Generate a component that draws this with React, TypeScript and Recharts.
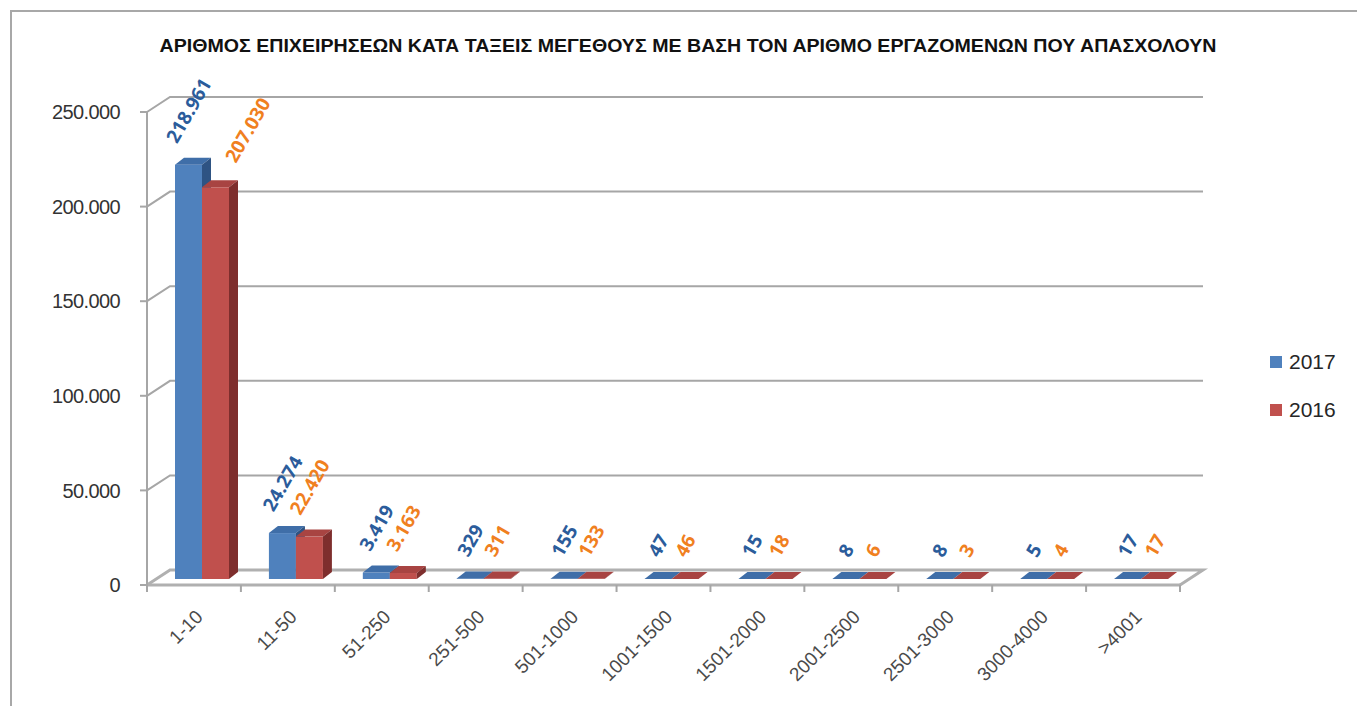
import React from 'react';
import { BarChart, Bar, XAxis, YAxis, CartesianGrid, Legend, LabelList } from 'recharts';

const CATEGORIES = ['1-10', '11-50', '51-250', '251-500', '501-1000', '1001-1500', '1501-2000', '2001-2500', '2501-3000', '3000-4000', '>4001'];
const VALUES_2017 = [218961, 24274, 3419, 329, 155, 47, 15, 8, 8, 5, 17];
const VALUES_2016 = [207030, 22420, 3163, 311, 133, 46, 18, 6, 3, 4, 17];
const Y_TICKS = [0, 50000, 100000, 150000, 200000, 250000];
const TITLE = 'ΑΡΙΘΜΟΣ ΕΠΙΧΕΙΡΗΣΕΩΝ ΚΑΤΑ ΤΑΞΕΙΣ ΜΕΓΕΘΟΥΣ ΜΕ ΒΑΣΗ ΤΟΝ ΑΡΙΘΜΟ ΕΡΓΑΖΟΜΕΝΩΝ ΠΟΥ ΑΠΑΣΧΟΛΟΥΝ';

const data = CATEGORIES.map((name, i) => ({ name, y2017: VALUES_2017[i], y2016: VALUES_2016[i] }));

// 3d look: bar depth, shift of bars to mid depth, back wall offset
const DEPTH_X = 9;
const DEPTH_Y = 7;
const SHIFT_X = 8;
const SHIFT_Y = -6;
const WALL_X = 23;
const WALL_Y = 15;

const BLUE = { front: '#4F81BD', top: '#3F6EA8', side: '#2E5383', label: '#2B5C9B' };
const RED = { front: '#C0504D', top: '#A84442', side: '#7E2E2D', label: '#F0801F' };

const fmt = (v: number) => String(v).replace(/\B(?=(\d{3})+(?!\d))/g, '.');

const makeBarShape = (c: typeof BLUE) => (p: any) => {
  const { x, y, width, height } = p;
  const h = Math.max(height || 0, 0);
  const x0 = x + SHIFT_X;
  const y0 = y + SHIFT_Y;
  const w = width;
  return (
    <g>
      <rect x={x0} y={y0} width={w} height={h} fill={c.front} />
      <polygon
        points={`${x0},${y0} ${x0 + w},${y0} ${x0 + w + DEPTH_X},${y0 - DEPTH_Y} ${x0 + DEPTH_X},${y0 - DEPTH_Y}`}
        fill={c.top}
      />
      <polygon
        points={`${x0 + w},${y0} ${x0 + w + DEPTH_X},${y0 - DEPTH_Y} ${x0 + w + DEPTH_X},${y0 + h - DEPTH_Y} ${x0 + w},${y0 + h}`}
        fill={c.side}
      />
    </g>
  );
};

const makeLabel = (color: string, second: boolean) => (p: any) => {
  const { x, y, width, value, index } = p;
  const text = fmt(Number(value));
  const dots = (text.match(/\./g) || []).length;
  const len = (text.length - dots) * 10.9 + dots * 5;
  let lx = x + width / 2 + SHIFT_X;
  let ly = y + SHIFT_Y - DEPTH_Y - 17 - len * 0.43;
  // Excel pushed the first orange label aside so it does not hit the blue one
  if (second && index === 0) {
    lx += 32;
    ly -= 3;
  }
  return (
    <text
      x={0}
      y={0}
      transform={`translate(${lx},${ly}) rotate(-60)`}
      textAnchor="middle"
      dominantBaseline="central"
      fill={color}
      fontFamily="'Open Sans', sans-serif"
      fontWeight={700}
      fontSize={19}
    >
      {text}
    </text>
  );
};

const renderGridLine = (p: any) => {
  const { x1, x2, y1, y, height, index } = p;
  const isFloor = Math.abs(y1 - (y + height)) < 0.5;
  const d = isFloor
    ? `M${x1},${y1} L${x1 + WALL_X},${y1 - WALL_Y} L${x2 + WALL_X},${y1 - WALL_Y} L${x2},${y1}`
    : `M${x1},${y1} L${x1 + WALL_X},${y1 - WALL_Y} L${x2 + WALL_X},${y1 - WALL_Y}`;
  return <path key={`g-${index}`} d={d} fill="none" stroke={isFloor ? '#b0b0b0' : '#a6a6a6'} strokeWidth={isFloor ? 3 : 2} />;
};

const XTick = (p: any) => {
  const { x, y, payload, index, visibleTicksCount, width } = p;
  const band = width / visibleTicksCount;
  const last = index === visibleTicksCount - 1;
  return (
    <g>
      <line x1={x - band / 2} y1={y} x2={x - band / 2} y2={y + 7} stroke="#a6a6a6" strokeWidth={2} />
      {last && <line x1={x + band / 2} y1={y} x2={x + band / 2} y2={y + 7} stroke="#a6a6a6" strokeWidth={2} />}
      <text
        x={0}
        y={0}
        transform={`translate(${x + 10},${y + 33}) rotate(-45)`}
        textAnchor="end"
        fill="#4a4a4a"
        fontFamily="'Liberation Sans', Arial, sans-serif"
        fontSize={19}
      >
        {payload.value}
      </text>
    </g>
  );
};

const LegendContent = () => (
  <div style={{ fontFamily: "'Liberation Sans', Arial, sans-serif", fontSize: 21, color: '#262626' }}>
    {[
      { name: '2017', color: BLUE.front },
      { name: '2016', color: RED.front },
    ].map((it, i) => (
      <div key={it.name} style={{ display: 'flex', alignItems: 'center', height: 24, marginBottom: i === 0 ? 24 : 0 }}>
        <span style={{ display: 'inline-block', width: 12, height: 12, background: it.color, marginRight: 7 }} />
        <span>{it.name}</span>
      </div>
    ))}
  </div>
);

export default function App() {
  return (
    <div style={{ position: 'absolute', left: 0, top: 0, width: 1357, height: 706, overflow: 'hidden', background: '#fff' }}>
      <div
        style={{
          position: 'absolute',
          left: 10,
          top: 10,
          width: 1400,
          height: 760,
          border: '2px solid #a8a8a8',
        }}
      />
      <svg style={{ position: 'absolute', left: 0, top: 0 }} width={1357} height={70}>
        <text
          x={688}
          y={52}
          textAnchor="middle"
          fontFamily="'Liberation Sans', Arial, sans-serif"
          fontWeight={700}
          fontSize={19}
          fill="#111"
          textLength={1057}
          lengthAdjust="spacingAndGlyphs"
        >
          {TITLE}
        </text>
      </svg>
      <div style={{ position: 'absolute', left: 0, top: 0 }}>
        <BarChart
          width={1357}
          height={706}
          data={data}
          margin={{ top: 112, right: 177, bottom: 21, left: 67 }}
          barGap={0}
          barSize={27}
        >
          <CartesianGrid vertical={false} horizontal={renderGridLine} />
          <XAxis
            dataKey="name"
            interval={0}
            height={100}
            tickSize={0}
            tickMargin={0}
            tickLine={false}
            axisLine={{ stroke: '#b0b0b0', strokeWidth: 3 }}
            tick={<XTick />}
          />
          <YAxis
            domain={[0, 250000]}
            ticks={Y_TICKS}
            width={80}
            tickSize={7}
            tickMargin={20}
            tickFormatter={(v: number) => fmt(v)}
            axisLine={{ stroke: '#a6a6a6', strokeWidth: 2 }}
            tickLine={{ stroke: '#a6a6a6', strokeWidth: 2 }}
            tick={{ fill: '#333', fontSize: 20, fontFamily: "'Liberation Sans', Arial, sans-serif", letterSpacing: -0.6 }}
          />
          <Legend
            layout="vertical"
            align="center"
            verticalAlign="middle"
            content={<LegendContent />}
            wrapperStyle={{ left: 1270, top: 350, width: 90 }}
          />
          <Bar dataKey="y2017" name="2017" fill={BLUE.front} shape={makeBarShape(BLUE)} isAnimationActive={false}>
            <LabelList dataKey="y2017" content={makeLabel(BLUE.label, false)} />
          </Bar>
          <Bar dataKey="y2016" name="2016" fill={RED.front} shape={makeBarShape(RED)} isAnimationActive={false}>
            <LabelList dataKey="y2016" content={makeLabel(RED.label, true)} />
          </Bar>
        </BarChart>
      </div>
    </div>
  );
}
